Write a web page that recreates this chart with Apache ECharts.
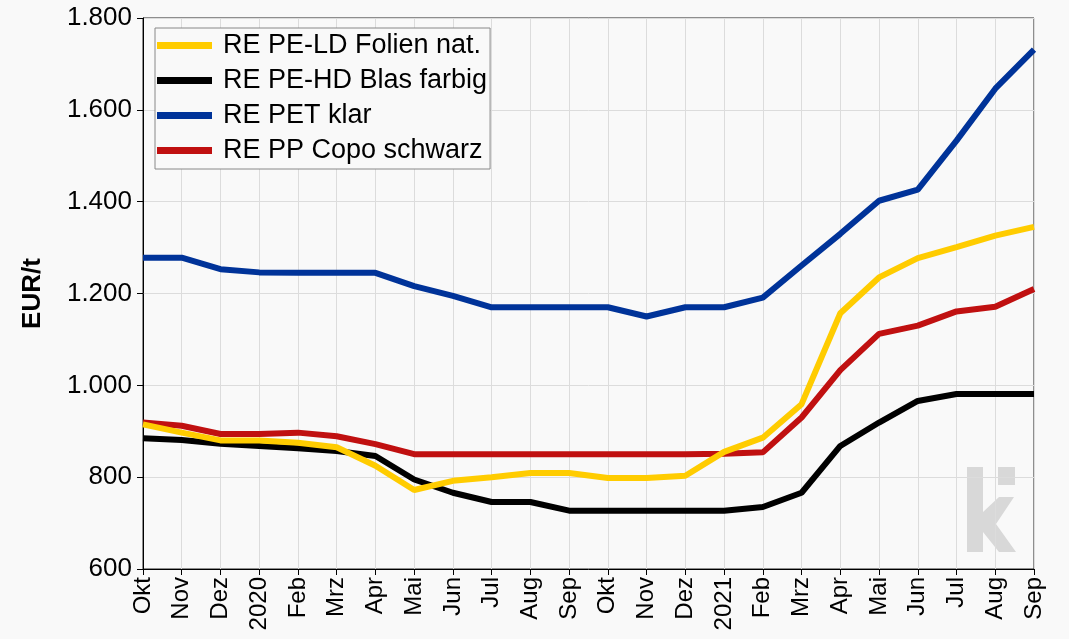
<!DOCTYPE html>
<html>
<head>
<meta charset="utf-8">
<script src="https://cdn.jsdelivr.net/npm/echarts@6/dist/echarts.min.js"></script>
<style>
  html, body { margin: 0; padding: 0; background: #f9f9f9; }
  #main { width: 1069px; height: 639px; }
</style>
</head>
<body>
<div id="main"></div>
<script>
// Monatswerte Okt 2019 - Sep 2021
var months = ['Okt', 'Nov', 'Dez', '2020', 'Feb', 'Mrz', 'Apr', 'Mai', 'Jun', 'Jul', 'Aug', 'Sep',
              'Okt', 'Nov', 'Dez', '2021', 'Feb', 'Mrz', 'Apr', 'Mai', 'Jun', 'Jul', 'Aug', 'Sep'];
var peLd = [915, 897, 880, 880, 875, 865, 825, 772, 792, 800, 809, 809,
            798, 798, 803, 855, 886, 959, 1157, 1235, 1277, 1301, 1326, 1345];
var peHd = [885, 881, 873, 868, 863, 857, 846, 795, 766, 746, 746, 727,
            727, 727, 727, 727, 735, 766, 868, 919, 966, 981, 981, 981];
var pet = [1278, 1278, 1253, 1246, 1245, 1245, 1245, 1216, 1195, 1170, 1170, 1170,
           1170, 1150, 1170, 1170, 1191, 1261, 1330, 1402, 1426, 1533, 1646, 1731];
var ppCopo = [919, 912, 894, 894, 897, 889, 872, 850, 850, 850, 850, 850,
              850, 850, 850, 851, 854, 930, 1033, 1112, 1130, 1161, 1171, 1210];

var names = ['RE PE-LD Folien nat.', 'RE PE-HD Blas farbig', 'RE PET klar', 'RE PP Copo schwarz'];
var colors = ['#ffcc00', '#000000', '#003399', '#c01010'];

var font = 'Liberation Sans, Arial, sans-serif';

function fmt(v) {
	return v >= 1000 ? Math.floor(v / 1000) + '.' + String(v % 1000).padStart(3, '0') : String(v);
}

function line(i, data, z) {
	return {
		name: names[i],
		type: 'line',
		data: data,
		z: z,
		showSymbol: false,
		symbol: 'none',
		color: colors[i],
		lineStyle: { width: 6, color: colors[i] }
	};
}

var chart = echarts.init(document.getElementById('main'));
chart.setOption({
	backgroundColor: '#f9f9f9',
	animation: false,
	grid: {
		left: 143, right: 35, top: 18, bottom: 70,
		show: true, borderColor: '#222', borderWidth: 1, backgroundColor: 'transparent'
	},
	legend: {
		data: names,
		orient: 'vertical',
		left: 155, top: 28,
		icon: 'rect',
		itemWidth: 55, itemHeight: 7, itemGap: 8,
		padding: [4, 3, 5, 2],
		borderColor: '#888', borderWidth: 1,
		backgroundColor: '#f9f9f9',
		textStyle: { fontFamily: font, fontSize: 27, lineHeight: 27, color: '#000', padding: [0, 0, 0, 6] }
	},
	xAxis: {
		type: 'category',
		data: months,
		boundaryGap: false,
		axisLine: { lineStyle: { color: '#000', width: 1 } },
		axisTick: { show: true, length: 6, interval: 0, lineStyle: { color: '#000' } },
		axisLabel: { interval: 0, rotate: 90, margin: 8, fontFamily: font, fontSize: 24, color: '#000' },
		splitLine: { show: true, interval: 0, lineStyle: { color: '#dcdcdc', width: 1 } }
	},
	yAxis: {
		type: 'value',
		min: 600, max: 1800, interval: 200,
		name: 'EUR/t',
		nameLocation: 'middle',
		nameGap: 97,
		nameTextStyle: { fontFamily: font, fontSize: 26, fontWeight: 'bold', color: '#000' },
		axisLine: { show: true, lineStyle: { color: '#000', width: 1 } },
		axisTick: { show: true, length: 6, lineStyle: { color: '#000' } },
		axisLabel: { margin: 11, fontFamily: font, fontSize: 26, color: '#000', formatter: fmt },
		splitLine: { show: true, lineStyle: { color: '#dcdcdc', width: 1 } }
	},
	graphic: [{
		type: 'group',
		z: 1,
		silent: true,
		children: [
			{ type: 'rect', shape: { x: 967, y: 467, width: 16, height: 85 }, style: { fill: '#d8d8d8' } },
			{ type: 'rect', shape: { x: 998, y: 467, width: 17, height: 18 }, style: { fill: '#d8d8d8' } },
			{ type: 'polygon', shape: { points: [[983, 512], [999, 497], [1014, 497], [996, 524], [1016, 552], [999, 552], [983, 532]] }, style: { fill: '#d8d8d8' } }
		]
	}],
	series: [
		line(1, peHd, 2),
		line(3, ppCopo, 3),
		line(2, pet, 4),
		line(0, peLd, 5)
	]
});
</script>
</body>
</html>
